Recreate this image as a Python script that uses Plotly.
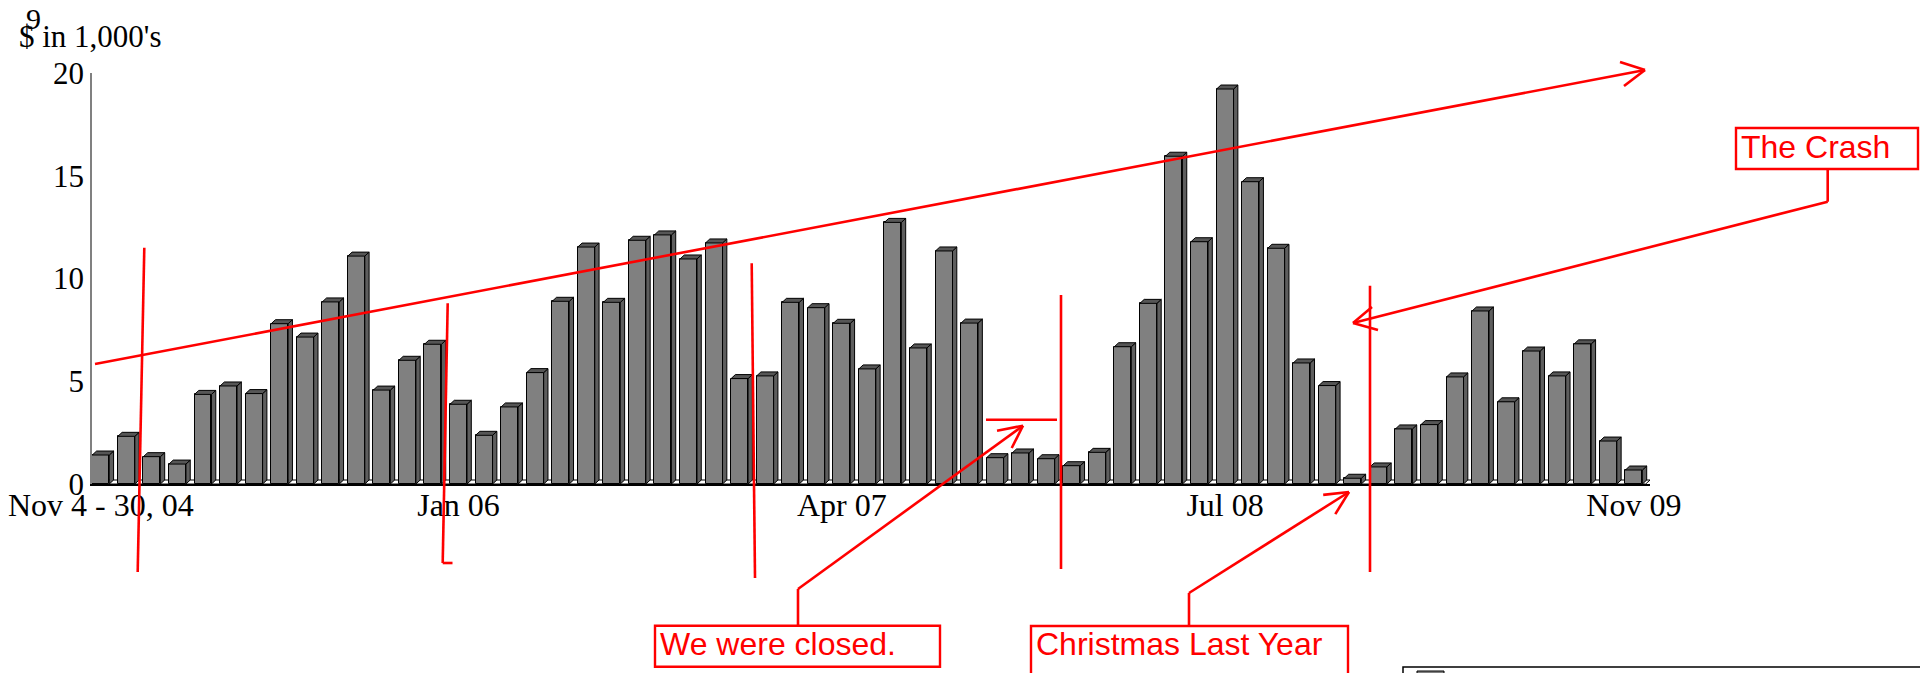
import plotly.graph_objects as go

# ---------------- data ----------------
month_pos = list(range(1, 62))          # Nov 2004 ... Nov 2009 (61 months)
sales = [1.41, 2.32, 1.33, 0.97, 4.36, 4.77, 4.40, 7.80, 7.15, 8.86,
         11.09, 4.57, 6.02, 6.80, 3.88, 2.37, 3.75, 5.42, 8.89, 11.53,
         8.84, 11.86, 12.12, 10.95, 11.73, 5.13, 5.26, 8.84, 8.58, 7.82,
         5.60, 12.73, 6.62, 11.34, 7.83, 1.28, 1.51, 1.23, 0.89, 1.54,
         6.68, 8.79, 15.95, 11.79, 19.22, 14.71, 11.47, 5.89, 4.79, 0.28,
         0.83, 2.68, 2.89, 5.21, 8.42, 4.00, 6.47, 5.26, 6.82, 2.09,
         0.68]
tick_pos = [1, 15, 30, 45, 61]
tick_text = ["Nov 4 - 30, 04", "Jan 06", "Apr 07", "Jul 08", "Nov 09"]
y_ticks = [0, 5, 10, 15, 20]

# ---------------- layout geometry (page pixel coords) ----------------
W, H = 1928, 673
OFF = 8                                  # default body margin of the html page
L, R, T, B = 92, 1650, 73, 484           # plot area on the page
XR = [0.656, 61.63]
YR = [0, 20]
BAR_W = 0.665
DX = 4.3 / ((R - L) / (XR[1] - XR[0]))   # depth offset in x units
DY = 4.0 / ((B - T) / (YR[1] - YR[0]))   # depth offset in y units

def px(x):
    return (x - L) / (R - L)

def py(y):
    return (B - y) / (B - T)

SERIF = "Liberation Serif, Times New Roman, serif"
SANS = "Liberation Sans, Arial, sans-serif"
RED = "#ff0000"

fig = go.Figure()

# front faces
fig.add_trace(go.Bar(x=month_pos, y=sales, width=BAR_W,
                     marker=dict(color="#808080", line=dict(color="black", width=1)),
                     showlegend=False, hoverinfo="x+y"))

# side faces and top faces (3-D look), derived from data values
side_x, side_y, top_x, top_y = [], [], [], []
for x, v in zip(month_pos, sales):
    xr = x + BAR_W / 2
    xl = x - BAR_W / 2
    side_x += [xr, xr + DX, xr + DX, xr, xr, None]
    side_y += [0, DY, v + DY, v, 0, None]
    top_x += [xl, xl + DX, xr + DX, xr, xl, None]
    top_y += [v, v + DY, v + DY, v, v, None]

fig.add_trace(go.Scatter(x=side_x, y=side_y, mode="lines", fill="toself",
                         fillcolor="#5e5e5e", line=dict(color="black", width=1),
                         showlegend=False, hoverinfo="skip"))
fig.add_trace(go.Scatter(x=top_x, y=top_y, mode="lines", fill="toself",
                         fillcolor="#565656", line=dict(color="black", width=1),
                         showlegend=False, hoverinfo="skip"))

shapes = []
# floor (behind bars)
shapes.append(dict(type="path", xref="x", yref="y", layer="below",
                   path=f"M {XR[0]} 0 L {XR[0]+DX} {DY} L {XR[1]} {DY} L {XR[1]-DX} 0 Z",
                   fillcolor="white", line=dict(color="black", width=1)))

def seg(x0, y0, x1, y1, w=2.6):
    shapes.append(dict(type="line", xref="paper", yref="paper",
                       x0=px(x0), y0=py(y0), x1=px(x1), y1=py(y1),
                       line=dict(color=RED, width=w)))

def box(x0, y0, x1, y1, color=RED, w=2.4, fill=None):
    shapes.append(dict(type="rect", xref="paper", yref="paper",
                       x0=px(x0), y0=py(y0), x1=px(x1), y1=py(y1),
                       line=dict(color=color, width=w),
                       fillcolor=fill if fill else "rgba(0,0,0,0)"))

# trend arrow
seg(95, 364, 1645, 70)
seg(1645, 70, 1620, 62)
seg(1645, 70, 1624, 86)

# vertical separators
seg(144.3, 247.7, 137.7, 572)
seg(447.7, 303.3, 442.7, 563)
seg(442.7, 563, 452.5, 563)
seg(751.7, 263.3, 755, 578)
seg(1061, 295, 1061, 569)
seg(1370, 285.7, 1370, 572)

# "we were closed" marker + arrow
seg(986, 419.7, 1057, 419.7)
seg(798, 625.7, 798, 589)
seg(798, 589, 1023, 425.7)
seg(1023, 425.7, 997, 430.7)
seg(1023, 425.7, 1011.7, 448)
box(655, 625.7, 940, 666.7)

# "Christmas Last Year" arrow
seg(1189, 626, 1189, 593)
seg(1189, 593, 1349, 492)
seg(1349, 492, 1323.2, 494.9)
seg(1349, 492, 1335.3, 514.1)
box(1031, 626, 1348, 690)

# "The Crash" arrow
box(1736, 128, 1918, 169)
seg(1827.7, 169, 1827.7, 201.7)
seg(1827.7, 201.7, 1353, 323)
seg(1353, 323, 1372, 307)
seg(1353, 323, 1378, 330)

# legend box (cut off at the bottom edge)
box(1403, 667, 1940, 700, color="black", w=1.5)
box(1417, 671, 1444, 700, color="black", w=1, fill="#808080")

annotations = [
    dict(text="$ in 1,000's", xref="paper", yref="paper", x=px(18), y=py(36),
         xanchor="left", yanchor="middle", showarrow=False, borderpad=0,
         font=dict(family=SERIF, size=31, color="black")),
    dict(text="9", xref="paper", yref="paper", x=px(25), y=py(18),
         xanchor="left", yanchor="middle", showarrow=False, borderpad=0,
         font=dict(family=SERIF, size=30, color="black")),
    dict(text="The Crash", xref="paper", yref="paper", x=px(1740), y=py(147),
         xanchor="left", yanchor="middle", showarrow=False, borderpad=0,
         font=dict(family=SANS, size=32, color=RED)),
    dict(text="We were closed.", xref="paper", yref="paper", x=px(659), y=py(644),
         xanchor="left", yanchor="middle", showarrow=False, borderpad=0,
         font=dict(family=SANS, size=32, color=RED)),
    dict(text="Christmas Last Year", xref="paper", yref="paper", x=px(1035), y=py(644),
         xanchor="left", yanchor="middle", showarrow=False, borderpad=0,
         font=dict(family=SANS, size=32, color=RED)),
]

fig.update_layout(
    width=W - OFF, height=H - OFF,
    margin=dict(l=L - OFF, r=W - R, t=T - OFF, b=H - B, autoexpand=False),
    paper_bgcolor="white", plot_bgcolor="white",
    bargap=0, showlegend=False,
    shapes=shapes, annotations=annotations,
    xaxis=dict(range=XR, tickvals=tick_pos, ticktext=tick_text,
               showgrid=False, zeroline=False, showline=True,
               linecolor="black", linewidth=2, ticks="",
               ticklabelstandoff=-8, ticklabeloverflow="allow",
               tickfont=dict(family=SERIF, size=32, color="black")),
    yaxis=dict(range=YR, tickvals=y_ticks, showgrid=False, zeroline=False,
               showline=True, linecolor="#808080", linewidth=1.5, ticks="",
               tickfont=dict(family=SERIF, size=31, color="black")),
)

fig.write_html("out.html")
